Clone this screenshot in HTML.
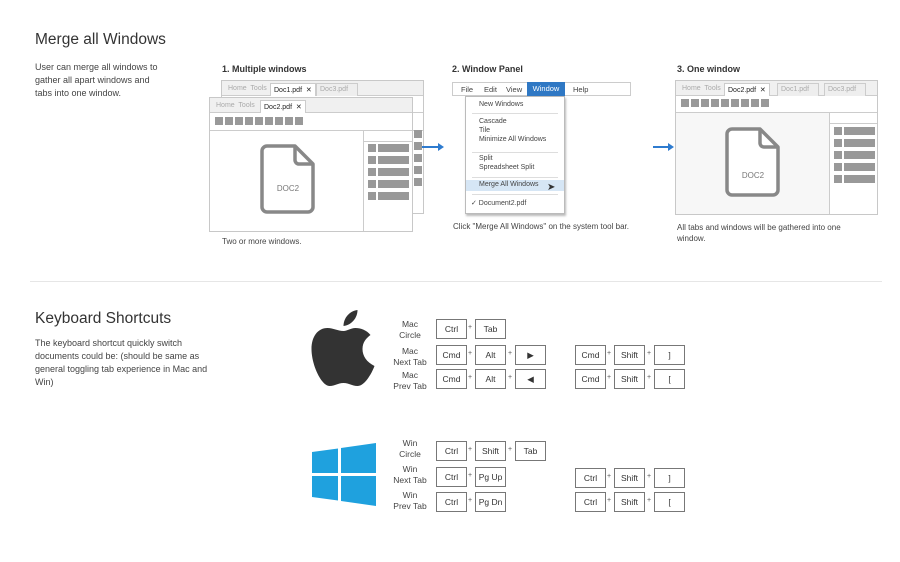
<!DOCTYPE html>
<html><head><meta charset="utf-8"><style>
*{margin:0;padding:0;box-sizing:border-box}
body{width:900px;height:562px;background:#fff;position:relative;overflow:hidden;font-family:"Liberation Sans","DejaVu Sans",sans-serif;color:#333}
.a{position:absolute;white-space:nowrap}
.h{font-size:15.5px;color:#333}
.p{font-size:9px;line-height:13px;color:#444;white-space:normal}
.t{font-size:9px;font-weight:bold;color:#333}
.c{font-size:8px;color:#444}
.win{position:absolute;border:1px solid #c8c8c8;background:#fff}
.tabs{position:absolute;left:0;right:0;top:0;height:15px;background:#f0f0f0;border-bottom:1px solid #ccc;font-size:7px;color:#aaa}
.tab{position:absolute;top:2px;height:13px;border:1px solid #ccc;border-bottom:none;padding:2px 3px;background:#eee}
.tab.on{background:#fff;color:#222}
.sq{position:absolute;width:8px;height:8px;background:#999}
.bar{position:absolute;height:8px;background:#999}
.k{position:absolute;width:31px;height:20px;border:1px solid #777;font-size:8.5px;text-align:center;line-height:18px;color:#333;background:#fff}
.pl{position:absolute;font-size:7px;color:#555}
.lb{position:absolute;width:60px;text-align:center;font-size:8.5px;line-height:11px;color:#444}
.mi{position:absolute;left:13px;font-size:7px;color:#444}
.sep{position:absolute;left:6px;right:6px;height:1px;background:#ddd}
</style></head><body>

<div class="a h" style="left:35px;top:31px">Merge all Windows</div>
<div class="a p" style="left:35px;top:61px;width:132px">User can merge all windows to gather all apart windows and tabs into one window.</div>

<div class="a t" style="left:222px;top:64px">1. Multiple windows</div>
<div class="a t" style="left:452px;top:64px">2. Window Panel</div>
<div class="a t" style="left:677px;top:64px">3. One window</div>

<!-- window 1 back -->
<div class="win" style="left:221px;top:80px;width:203px;height:134px">
 <div class="tabs"><span class="tab" style="left:3px;border:none;background:none">Home&nbsp; Tools</span><span class="tab on" style="left:48px">Doc1.pdf&nbsp; ✕</span><span class="tab" style="left:94px;width:42px">Doc3.pdf</span></div>
 <div style="position:absolute;left:0;right:0;top:31px;height:1px;background:#ccc"></div>
 <div style="position:absolute;left:0;right:0;top:49px;height:1px;background:#ccc"></div>
</div>
<div class="sq" style="left:414px;top:130px"></div>
<div class="sq" style="left:414px;top:142px"></div>
<div class="sq" style="left:414px;top:154px"></div>
<div class="sq" style="left:414px;top:166px"></div>
<div class="sq" style="left:414px;top:178px"></div>
<!-- window 1 front -->
<div class="win" style="left:209px;top:97px;width:204px;height:135px">
 <div class="tabs"><span class="tab" style="left:3px;border:none;background:none">Home&nbsp; Tools</span><span class="tab on" style="left:50px">Doc2.pdf&nbsp; ✕</span></div>
 <div style="position:absolute;left:0;right:0;top:32px;height:1px;background:#ccc"></div>
 <div style="position:absolute;left:153px;top:33px;bottom:0;width:1px;background:#ccc"></div>
 <div style="position:absolute;left:154px;right:0;top:43px;height:1px;background:#ccc"></div>
</div>
<svg class="a" style="left:259px;top:143px" width="58" height="72" viewBox="0 0 58 72"><path d="M8 3 H36 L54 21 V64 a5 5 0 0 1 -5 5 H8 a5 5 0 0 1 -5 -5 V8 a5 5 0 0 1 5 -5Z" fill="#fff" stroke="#888" stroke-width="3.5" stroke-linejoin="round"/><path d="M36 3 V17 a4 4 0 0 0 4 4 H54" fill="none" stroke="#888" stroke-width="3.5"/><text x="29" y="48" font-size="8" fill="#777" text-anchor="middle" font-family="Liberation Sans">DOC2</text></svg>
<div class="a c" style="left:222px;top:237px">Two or more windows.</div>

<!-- arrows -->
<div class="a" style="left:422px;top:146px;width:18px;height:1.5px;background:#2e7bcf"></div>
<div class="a" style="left:438px;top:143px;border-left:6px solid #2e7bcf;border-top:4px solid transparent;border-bottom:4px solid transparent"></div>
<div class="a" style="left:653px;top:146px;width:16px;height:1.5px;background:#2e7bcf"></div>
<div class="a" style="left:668px;top:143px;border-left:6px solid #2e7bcf;border-top:4px solid transparent;border-bottom:4px solid transparent"></div>

<!-- menu -->
<div class="a" style="left:452px;top:82px;width:179px;height:14px;border:1px solid #ccc;background:#fff;font-size:7.5px;color:#444">
 <span class="a" style="left:8px;top:2px">File</span><span class="a" style="left:31px;top:2px">Edit</span><span class="a" style="left:53px;top:2px">View</span>
 <span class="a" style="left:74px;top:-1px;width:38px;height:14px;background:#2f78c4;color:#fff;text-align:center;line-height:14px">Window</span>
 <span class="a" style="left:120px;top:2px">Help</span>
</div>
<div class="a" style="left:465px;top:96px;width:100px;height:118px;border:1px solid #bbb;background:#fff;box-shadow:1px 2px 2px #bbb">
 <span class="mi" style="top:4px">New Windows</span>
 <div class="sep" style="top:16px"></div>
 <span class="mi" style="top:21px">Cascade</span>
 <span class="mi" style="top:30px">Tile</span>
 <span class="mi" style="top:39px">Minimize All Windows</span>
 <div class="sep" style="top:55px"></div>
 <span class="mi" style="top:58px">Split</span>
 <span class="mi" style="top:67px">Spreadsheet Split</span>
 <div class="sep" style="top:80px"></div>
 <div class="a" style="left:0;right:0;top:83px;height:11px;background:#d6e6f5"></div>
 <span class="mi" style="top:84px">Merge All Windows</span>
 <span class="a" style="left:81px;top:85px;font-size:10px;color:#333">➤</span>
 <div class="sep" style="top:97px"></div>
 <span class="mi" style="top:102px;left:5px">✓ Document2.pdf</span>
</div>
<div class="a c" style="left:453px;top:222px">Click "Merge All Windows" on the system tool bar.</div>

<!-- window 3 -->
<div class="win" style="left:675px;top:80px;width:203px;height:135px">
 <div class="tabs"><span class="tab" style="left:3px;border:none;background:none">Home&nbsp; Tools</span><span class="tab on" style="left:48px">Doc2.pdf&nbsp; ✕</span><span class="tab" style="left:101px;width:42px">Doc1.pdf</span><span class="tab" style="left:148px;width:42px">Doc3.pdf</span></div>
 <div style="position:absolute;left:0;right:0;top:31px;height:1px;background:#ccc"></div>
 <div style="position:absolute;left:0;top:32px;width:153px;bottom:0;background:#f7f7f7"></div>
 <div style="position:absolute;left:153px;top:32px;bottom:0;width:1px;background:#ccc"></div>
 <div style="position:absolute;left:154px;right:0;top:42px;height:1px;background:#ccc"></div>
</div>
<svg class="a" style="left:724px;top:126px" width="58" height="72" viewBox="0 0 58 72"><path d="M8 3 H36 L54 21 V64 a5 5 0 0 1 -5 5 H8 a5 5 0 0 1 -5 -5 V8 a5 5 0 0 1 5 -5Z" fill="#fff" stroke="#888" stroke-width="3.5" stroke-linejoin="round"/><path d="M36 3 V17 a4 4 0 0 0 4 4 H54" fill="none" stroke="#888" stroke-width="3.5"/><text x="29" y="52" font-size="8" fill="#777" text-anchor="middle" font-family="Liberation Sans">DOC2</text></svg>
<div class="a c" style="left:677px;top:222px;line-height:11px">All tabs and windows will be gathered into one<br>window.</div>

<div class="a" style="left:30px;top:281px;width:852px;height:1px;background:#e6e6e6"></div>

<div class="a h" style="left:35px;top:310px">Keyboard Shortcuts</div>
<div class="a p" style="left:35px;top:337px;width:178px">The keyboard shortcut quickly switch documents could be: (should be same as general toggling tab experience in Mac and Win)</div>

<!-- apple -->
<svg class="a" style="left:311px;top:309px" width="65" height="78" viewBox="0 0 64 78"><path fill="#333" d="M32 22 C26 22 22 19 16 19 C6 19 0 28 0 40 C0 56 10 77 18 77 C24 77 26 74 32 74 C38 74 40 77 46 77 C53 77 60 65 63 57 C55 53 51 47 51 40 C51 33 55 29 59 26 C55 21 49 19 44 19 C39 19 36 22 32 22Z"/><path fill="#333" d="M32 17 C32 9 38 2 46 1 C46 9 40 16 32 17Z"/></svg>

<!-- windows logo -->
<svg class="a" style="left:312px;top:443px" width="64" height="63" viewBox="0 0 64 63"><g fill="#1fa1de"><path d="M0 9 L26 5.5 V30 H0Z"/><path d="M29 5 L64 0 V30 H29Z"/><path d="M0 33 H26 V57.5 L0 54Z"/><path d="M29 33 H64 V63 L29 58Z"/></g></svg>

<!-- labels -->
<div class="lb" style="left:380px;top:319px">Mac<br>Circle</div>
<div class="lb" style="left:380px;top:346px">Mac<br>Next Tab</div>
<div class="lb" style="left:380px;top:370px">Mac<br>Prev Tab</div>
<div class="lb" style="left:380px;top:438px">Win<br>Circle</div>
<div class="lb" style="left:380px;top:464px">Win<br>Next Tab</div>
<div class="lb" style="left:380px;top:490px">Win<br>Prev Tab</div>

<!-- mac keys -->
<div class="k" style="left:436px;top:319px">Ctrl</div><span class="pl" style="left:468px;top:324px">+</span><div class="k" style="left:475px;top:319px">Tab</div>
<div class="k" style="left:436px;top:345px">Cmd</div><span class="pl" style="left:468px;top:350px">+</span><div class="k" style="left:475px;top:345px">Alt</div><span class="pl" style="left:508px;top:350px">+</span><div class="k" style="left:515px;top:345px">▶</div>
<div class="k" style="left:436px;top:369px">Cmd</div><span class="pl" style="left:468px;top:374px">+</span><div class="k" style="left:475px;top:369px">Alt</div><span class="pl" style="left:508px;top:374px">+</span><div class="k" style="left:515px;top:369px">◀</div>
<div class="k" style="left:575px;top:345px">Cmd</div><span class="pl" style="left:607px;top:350px">+</span><div class="k" style="left:614px;top:345px">Shift</div><span class="pl" style="left:647px;top:350px">+</span><div class="k" style="left:654px;top:345px">]</div>
<div class="k" style="left:575px;top:369px">Cmd</div><span class="pl" style="left:607px;top:374px">+</span><div class="k" style="left:614px;top:369px">Shift</div><span class="pl" style="left:647px;top:374px">+</span><div class="k" style="left:654px;top:369px">[</div>

<!-- win keys -->
<div class="k" style="left:436px;top:441px">Ctrl</div><span class="pl" style="left:468px;top:446px">+</span><div class="k" style="left:475px;top:441px">Shift</div><span class="pl" style="left:508px;top:446px">+</span><div class="k" style="left:515px;top:441px">Tab</div>
<div class="k" style="left:436px;top:467px">Ctrl</div><span class="pl" style="left:468px;top:472px">+</span><div class="k" style="left:475px;top:467px">Pg Up</div>
<div class="k" style="left:436px;top:492px">Ctrl</div><span class="pl" style="left:468px;top:497px">+</span><div class="k" style="left:475px;top:492px">Pg Dn</div>
<div class="k" style="left:575px;top:468px">Ctrl</div><span class="pl" style="left:607px;top:473px">+</span><div class="k" style="left:614px;top:468px">Shift</div><span class="pl" style="left:647px;top:473px">+</span><div class="k" style="left:654px;top:468px">]</div>
<div class="k" style="left:575px;top:492px">Ctrl</div><span class="pl" style="left:607px;top:497px">+</span><div class="k" style="left:614px;top:492px">Shift</div><span class="pl" style="left:647px;top:497px">+</span><div class="k" style="left:654px;top:492px">[</div>

<!-- toolbar squares and sidebar bars -->
<div class="sq" style="left:215px;top:117px"></div><div class="sq" style="left:225px;top:117px"></div><div class="sq" style="left:235px;top:117px"></div><div class="sq" style="left:245px;top:117px"></div><div class="sq" style="left:255px;top:117px"></div><div class="sq" style="left:265px;top:117px"></div><div class="sq" style="left:275px;top:117px"></div><div class="sq" style="left:285px;top:117px"></div><div class="sq" style="left:295px;top:117px"></div>
<div class="sq" style="left:368px;top:144px"></div><div class="bar" style="left:378px;top:144px;width:31px"></div>
<div class="sq" style="left:368px;top:156px"></div><div class="bar" style="left:378px;top:156px;width:31px"></div>
<div class="sq" style="left:368px;top:168px"></div><div class="bar" style="left:378px;top:168px;width:31px"></div>
<div class="sq" style="left:368px;top:180px"></div><div class="bar" style="left:378px;top:180px;width:31px"></div>
<div class="sq" style="left:368px;top:192px"></div><div class="bar" style="left:378px;top:192px;width:31px"></div>

<div class="sq" style="left:681px;top:99px"></div><div class="sq" style="left:691px;top:99px"></div><div class="sq" style="left:701px;top:99px"></div><div class="sq" style="left:711px;top:99px"></div><div class="sq" style="left:721px;top:99px"></div><div class="sq" style="left:731px;top:99px"></div><div class="sq" style="left:741px;top:99px"></div><div class="sq" style="left:751px;top:99px"></div><div class="sq" style="left:761px;top:99px"></div>
<div class="sq" style="left:834px;top:127px"></div><div class="bar" style="left:844px;top:127px;width:31px"></div>
<div class="sq" style="left:834px;top:139px"></div><div class="bar" style="left:844px;top:139px;width:31px"></div>
<div class="sq" style="left:834px;top:151px"></div><div class="bar" style="left:844px;top:151px;width:31px"></div>
<div class="sq" style="left:834px;top:163px"></div><div class="bar" style="left:844px;top:163px;width:31px"></div>
<div class="sq" style="left:834px;top:175px"></div><div class="bar" style="left:844px;top:175px;width:31px"></div>
</body></html>
